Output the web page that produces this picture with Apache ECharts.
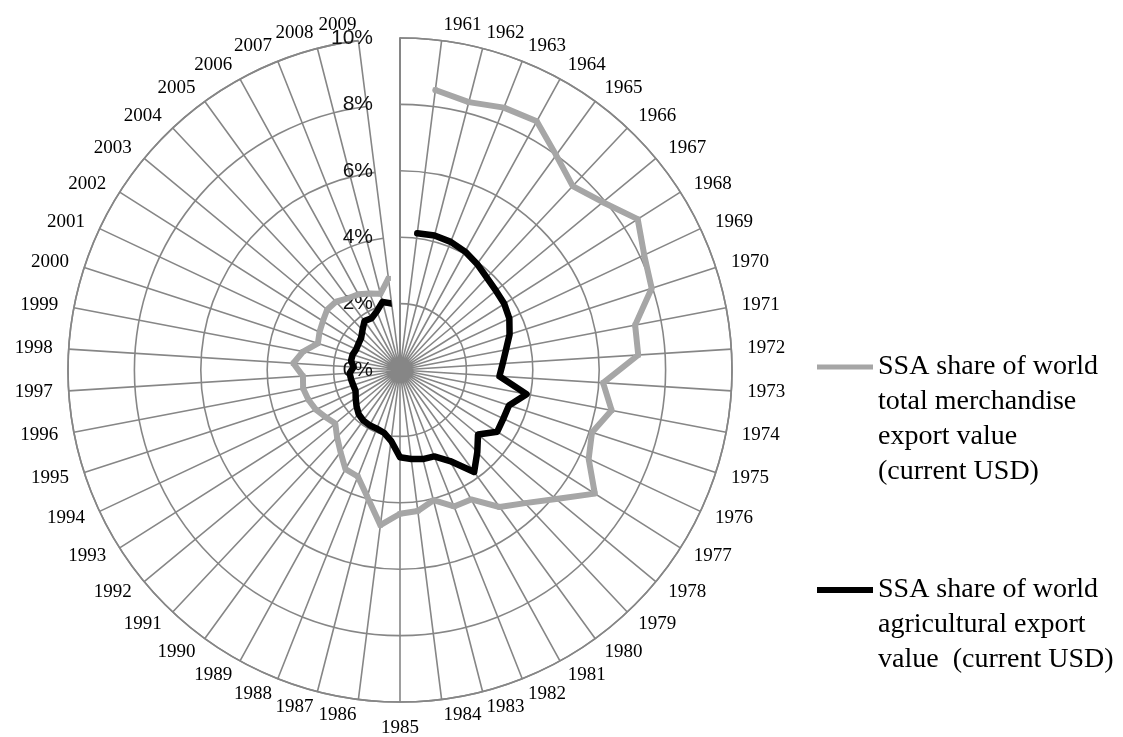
<!DOCTYPE html>
<html>
<head>
<meta charset="utf-8">
<script src="https://cdn.jsdelivr.net/npm/echarts@6/dist/echarts.min.js"></script>
<style>
html,body{margin:0;padding:0;background:#ffffff;}
#chart{width:1123px;height:737px;}
</style>
</head>
<body>
<div id="chart"></div>
<script>
// ---- data ----
const years = ['1961','1962','1963','1964','1965','1966','1967','1968','1969','1970',
  '1971','1972','1973','1974','1975','1976','1977','1978','1979','1980',
  '1981','1982','1983','1984','1985','1986','1987','1988','1989','1990',
  '1991','1992','1993','1994','1995','1996','1997','1998','1999','2000',
  '2001','2002','2003','2004','2005','2006','2007','2008','2009'];

// SSA share of world total merchandise export value (%)
const merchandiseShare = [8.50, 8.33, 8.50, 8.55, 8.00, 7.60, 7.93, 8.48, 8.13, 7.97,
  7.21, 7.19, 6.13, 6.49, 6.08, 6.28, 6.95, 6.10, 5.50, 5.10,
  4.45, 4.42, 4.05, 4.28, 4.33, 4.71, 3.95, 3.45, 3.41, 3.05,
  2.77, 2.53, 2.65, 2.80, 2.90, 2.97, 2.93, 3.22, 2.97, 2.60,
  2.68, 2.75, 2.85, 2.82, 2.67, 2.60, 2.48, 2.37, 2.78];

// SSA share of world agricultural export value (%)
const agricultureShare = [4.15, 4.18, 4.15, 4.07, 3.95, 3.82, 3.75, 3.72, 3.64, 3.47,
  3.25, 3.10, 3.00, 3.88, 3.45, 3.44, 3.47, 3.05, 3.40, 3.80,
  3.13, 2.80, 2.77, 2.70, 2.63, 2.15, 1.95, 1.90, 1.90, 1.88,
  1.82, 1.70, 1.58, 1.48, 1.48, 1.50, 1.52, 1.40, 1.50, 1.50,
  1.46, 1.48, 1.52, 1.65, 1.82, 1.78, 1.90, 2.12, 2.02];

const valueMin = 0, valueMax = 10, valueStep = 2;

const seriesNames = [
  'SSA share of world\ntotal merchandise\nexport value\n(current USD)',
  'SSA share of world\nagricultural export\nvalue  (current USD)'
];

// ---- layout / style ----
const R = 332;
const LABEL_MARGIN = 16;
const LABEL_W = 38;
const LABEL_H = 20;
const GRID = '#868686';
const GREY = '#a6a6a6';

// first (top) spoke is an empty category
const categories = [''].concat(years);
const n = categories.length;

// emulate label placement: beside the spoke end, vertically centred
function labelPadding(i) {
  const th = i * 2 * Math.PI / n;
  const s = Math.sin(th), c = Math.cos(th);
  const k = (R + LABEL_MARGIN) / R;
  const pad = [0, 0, 0, 0];
  if (Math.abs(s) < 1e-6) return pad;
  const hCenter = Math.abs(s) * k < 0.3;
  const vMiddle = Math.abs(c) * k < 0.3;
  if (hCenter) { if (s > 0) pad[3] = LABEL_W; else pad[1] = LABEL_W; }
  if (!vMiddle) { if (c > 0) pad[2] = -LABEL_H / 2; else pad[0] = -LABEL_H / 2; }
  return pad;
}

const angleData = categories.map(function (name, i) {
  return { value: name, textStyle: { padding: labelPadding(i) } };
});

const chart = echarts.init(document.getElementById('chart'), null, { renderer: 'canvas' });

function legendFormatter(name) {
  const lines = name.split('\n').length;
  return '\n'.repeat(lines - 1) + name;
}

const legendText = { fontFamily: 'Liberation Serif', fontSize: 28, lineHeight: 35, color: '#000000' };

const option = {
  animation: false,
  backgroundColor: '#ffffff',
  polar: { center: [400, 370], radius: R },
  angleAxis: {
    type: 'category',
    data: angleData,
    startAngle: 90,
    clockwise: true,
    boundaryGap: false,
    axisLine: { show: true, lineStyle: { color: GRID, width: 1.6 } },
    axisTick: { show: false },
    axisLabel: {
      show: true, interval: 0, margin: LABEL_MARGIN,
      fontFamily: 'Liberation Serif', fontSize: 19, lineHeight: LABEL_H, color: '#000000'
    },
    splitLine: { show: true, interval: 0, lineStyle: { color: GRID, width: 1.6 } }
  },
  radiusAxis: {
    type: 'value',
    min: valueMin, max: valueMax, interval: valueStep,
    axisLine: { show: true, lineStyle: { color: GRID, width: 2 } },
    axisTick: { show: false },
    axisLabel: {
      show: true, margin: 27, formatter: '{value}%',
      fontFamily: 'Liberation Sans', fontSize: 21, color: '#111111'
    },
    splitLine: { show: true, lineStyle: { color: GRID, width: 1.6 } }
  },
  legend: [
    {
      data: [{ name: seriesNames[0], icon: 'rect' }], orient: 'vertical',
      left: 817, top: 244.5, padding: 0,
      itemWidth: 56, itemHeight: 5, selectedMode: false, formatter: legendFormatter,
      itemStyle: { color: GREY }, textStyle: legendText
    },
    {
      data: [{ name: seriesNames[1], icon: 'rect' }], orient: 'vertical',
      left: 817, top: 502.5, padding: 0,
      itemWidth: 56, itemHeight: 6, selectedMode: false, formatter: legendFormatter,
      itemStyle: { color: '#000000' }, textStyle: legendText
    }
  ],
  series: [
    {
      name: seriesNames[0],
      type: 'line',
      coordinateSystem: 'polar',
      data: [null].concat(merchandiseShare),
      symbol: 'rect', symbolSize: 5, showSymbol: true,
      itemStyle: { color: GREY },
      lineStyle: { color: GREY, width: 6, join: 'round', cap: 'round' },
      emphasis: { disabled: true },
      z: 3
    },
    {
      name: seriesNames[1],
      type: 'line',
      coordinateSystem: 'polar',
      data: [null].concat(agricultureShare),
      symbol: 'none',
      itemStyle: { color: '#000000' },
      lineStyle: { color: '#000000', width: 6.5, join: 'round', cap: 'round' },
      emphasis: { disabled: true },
      z: 4
    }
  ]
};

chart.setOption(option);
</script>
</body>
</html>
